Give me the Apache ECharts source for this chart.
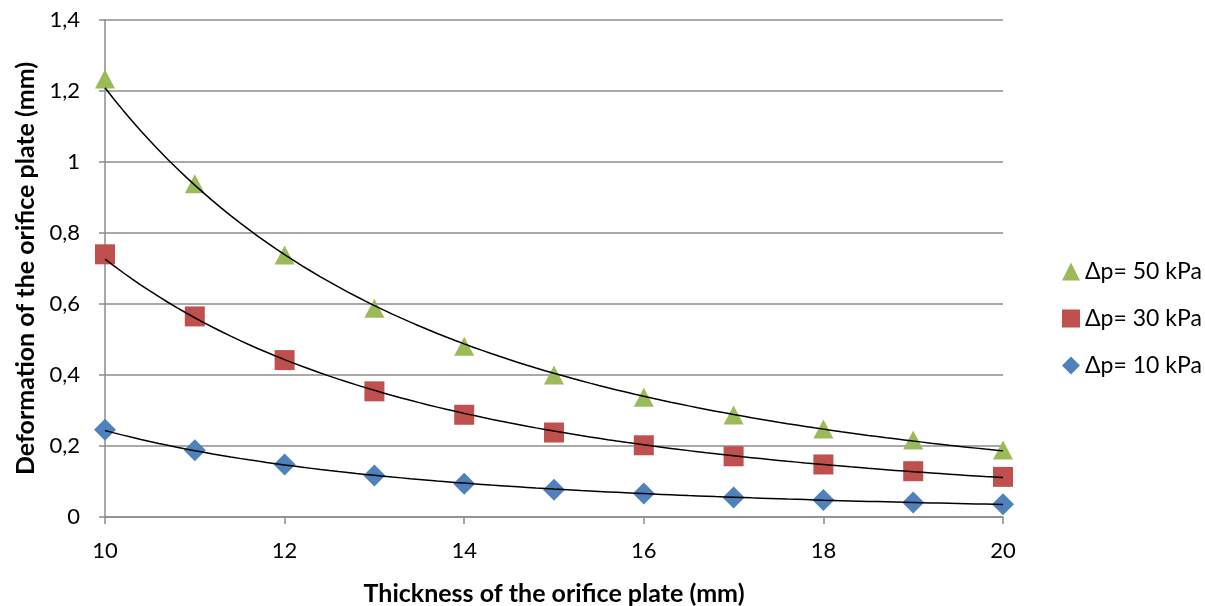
<!DOCTYPE html>
<html>
<head>
<meta charset="utf-8">
<script src="https://cdn.jsdelivr.net/npm/echarts@6/dist/echarts.min.js"></script>
<style>
  html, body { margin: 0; padding: 0; background: #fff; }
  #chart { width: 1205px; height: 606px; }
</style>
</head>
<body>
<div id="chart"></div>
<script>
// Plate thickness (mm)
const thickness = [10, 11, 12, 13, 14, 15, 16, 17, 18, 19, 20];
// Deformation (mm) for each pressure difference
const dp50 = [1.234, 0.939, 0.738, 0.588, 0.481, 0.400, 0.337, 0.287, 0.248, 0.217, 0.189];
const dp30 = [0.740, 0.565, 0.442, 0.354, 0.288, 0.238, 0.202, 0.171, 0.148, 0.129, 0.113];
const dp10 = [0.246, 0.188, 0.148, 0.117, 0.094, 0.077, 0.066, 0.055, 0.048, 0.041, 0.036];
const seriesNames = ['Δp= 50 kPa', 'Δp= 30 kPa', 'Δp= 10 kPa'];
const yTickLabels = ['0', '0,2', '0,4', '0,6', '0,8', '1', '1,2', '1,4'];

// Power-law trendline y = a * x^b, least squares in log-log space
function powerFit(xs, ys) {
  const n = xs.length;
  let sx = 0, sy = 0, sxx = 0, sxy = 0;
  for (let i = 0; i < n; i++) {
    const lx = Math.log(xs[i]), ly = Math.log(ys[i]);
    sx += lx; sy += ly; sxx += lx * lx; sxy += lx * ly;
  }
  const b = (n * sxy - sx * sy) / (n * sxx - sx * sx);
  const a = Math.exp((sy - b * sx) / n);
  const pts = [];
  const x0 = xs[0], x1 = xs[n - 1];
  for (let k = 0; k <= 100; k++) {
    const x = x0 + (x1 - x0) * k / 100;
    pts.push([x, a * Math.pow(x, b)]);
  }
  return pts;
}

const pairs = ys => thickness.map((x, i) => [x, ys[i]]);
const font = 'Lato, "Open Sans", sans-serif';
const gridColor = '#8c8c8c';

const chart = echarts.init(document.getElementById('chart'));
chart.setOption({
  animation: false,
  backgroundColor: '#fff',
  grid: {
    left: 105, right: 202, top: 20, bottom: 89,
    containLabel: false, outerBoundsMode: 'none'
  },
  legend: {
    orient: 'vertical',
    left: 1057,
    top: 255,
    itemGap: 24,
    itemWidth: 18,
    itemHeight: 18,
    data: seriesNames,
    textStyle: { fontFamily: font, fontSize: 23, color: '#000' }
  },
  xAxis: {
    type: 'value',
    min: 10, max: 20, interval: 2,
    name: 'Thickness of the orifice plate (mm)',
    nameLocation: 'middle',
    nameGap: 64,
    nameTextStyle: { fontFamily: font, fontSize: 25, fontWeight: 'bold', color: '#000' },
    axisLine: { show: true, lineStyle: { color: gridColor, width: 1.5 } },
    axisTick: { show: true, length: 7, lineStyle: { color: gridColor, width: 1.5 } },
    axisLabel: { fontFamily: font, fontSize: 22, color: '#000', margin: 23 },
    splitLine: { show: false }
  },
  yAxis: {
    type: 'value',
    min: 0, max: 1.4, interval: 0.2,
    name: 'Deformation of the orifice plate (mm)',
    nameLocation: 'middle',
    nameGap: 66,
    nameTextStyle: { fontFamily: font, fontSize: 25, fontWeight: 'bold', color: '#000' },
    axisLine: { show: true, lineStyle: { color: gridColor, width: 1.5 } },
    axisTick: { show: true, length: 6, lineStyle: { color: gridColor, width: 1.5 } },
    axisLabel: {
      fontFamily: font, fontSize: 22, color: '#000', margin: 25,
      formatter: v => yTickLabels[Math.round(v / 0.2)]
    },
    splitLine: { show: true, lineStyle: { color: gridColor, width: 1.5 } }
  },
  series: [
    {
      name: seriesNames[0], type: 'scatter', data: pairs(dp50),
      symbol: 'triangle', symbolSize: [20, 19],
      itemStyle: { color: '#9BBB59', opacity: 1 }, z: 2
    },
    {
      name: seriesNames[1], type: 'scatter', data: pairs(dp30),
      symbol: 'rect', symbolSize: 20,
      itemStyle: { color: '#C0504D', opacity: 1 }, z: 2
    },
    {
      name: seriesNames[2], type: 'scatter', data: pairs(dp10),
      symbol: 'diamond', symbolSize: 22,
      itemStyle: { color: '#4F81BD', opacity: 1 }, z: 2
    },
    ...[dp50, dp30, dp10].map(ys => ({
      type: 'line', data: powerFit(thickness, ys),
      showSymbol: false, symbol: 'none', silent: true,
      lineStyle: { color: '#000', width: 1.5 }, z: 3
    }))
  ]
});
</script>
</body>
</html>
